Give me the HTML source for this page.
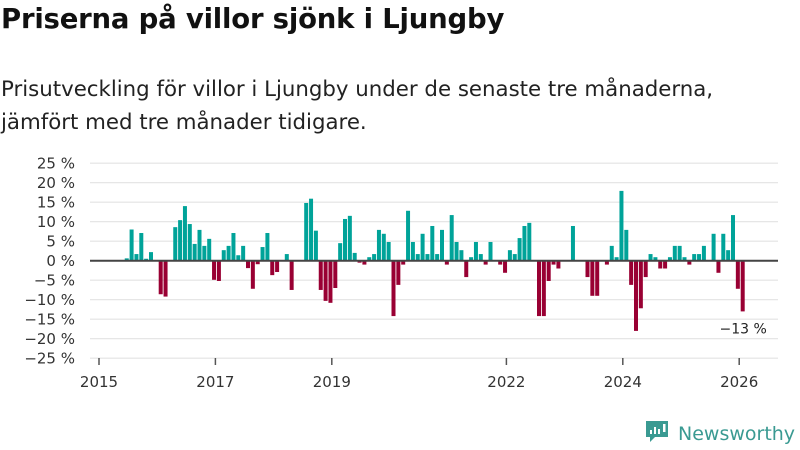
<!DOCTYPE html>
<html><head><meta charset="utf-8"><style>
body{margin:0;width:800px;height:450px;background:#fff;font-family:"DejaVu Sans",sans-serif;overflow:hidden;position:relative}
#title{position:absolute;left:1px;top:3px;font-size:27.5px;font-weight:bold;color:#111;margin:0;letter-spacing:-0.2px}
#sub{position:absolute;left:1px;top:73px;font-size:21.3px;line-height:33px;color:#222;margin:0}
svg{position:absolute;left:0;top:0}
</style></head><body>
<h1 id="title">Priserna på villor sjönk i Ljungby</h1>
<p id="sub">Prisutveckling för villor i Ljungby under de senaste tre månaderna,<br>jämfört med tre månader tidigare.</p>
<svg id="chart" width="800" height="450"></svg>
<script>
const yTicks=[25,20,15,10,5,0,-5,-10,-15,-20,-25];
const yTickLabels=["25 %","20 %","15 %","10 %","5 %","0 %","−5 %","−10 %","−15 %","−20 %","−25 %"];
const xTicks=[2015,2017,2019,2022,2024,2026];
const startYear=2015;
const values=[null,null,null,null,null,0.6,8,1.7,7.1,0.5,2.2,null,-8.6,-9.2,null,8.6,10.4,14,9.4,4.3,7.9,3.8,5.6,-4.9,-5.2,2.7,3.8,7.1,1.4,3.8,-1.9,-7.2,-0.9,3.5,7.1,-3.7,-2.9,null,1.7,-7.5,null,null,14.8,15.9,7.7,-7.5,-10.3,-10.8,-7,4.5,10.7,11.5,2,-0.5,-1,0.9,1.7,7.9,6.9,4.8,-14.2,-6.2,-1,12.8,4.8,1.7,6.9,1.7,8.9,1.7,7.9,-1,11.7,4.8,2.7,-4.2,0.9,4.8,1.7,-1,4.8,null,-1,-3.1,2.7,1.7,5.8,8.9,9.7,null,-14.2,-14.2,-5.2,-1,-2,null,null,8.9,null,null,-4.2,-9,-9,null,-1,3.8,0.9,17.9,7.9,-6.2,-18,-12.2,-4.2,1.7,0.9,-2,-2,0.9,3.8,3.8,0.9,-1,1.7,1.7,3.8,null,6.9,-3.1,6.9,2.7,11.7,-7.2,-13];
const lastLabel="−13 %";
const NS="http://www.w3.org/2000/svg";
const svg=document.getElementById('chart');
const FONT='DejaVu Sans, sans-serif';
const x=yr=>99+(yr-2015)*58.2;
const y=v=>260.7-v*3.9;
function el(t,a,txt){const e=document.createElementNS(NS,t);for(const k in a)e.setAttribute(k,a[k]);if(txt!=null)e.textContent=txt;svg.appendChild(e);return e;}
yTicks.forEach((t,i)=>{
  const g=el('line',{x1:90,x2:778,y1:y(t),y2:y(t),stroke:'#e3e3e3','stroke-width':1.2});
  
  
  const l=el('text',{x:75,y:y(t)+5.5,'text-anchor':'end','font-size':15,fill:'#333','font-family':FONT},yTickLabels[i]);
  
  
});
xTicks.forEach(t=>{
  const tk=el('line',{x1:x(t),x2:x(t),y1:358,y2:365,stroke:'#555','stroke-width':1.5});
  
  
  const l=el('text',{x:x(t),y:387,'text-anchor':'middle','font-size':15,fill:'#333','font-family':FONT},String(t));
  
  
});
values.forEach((v,m)=>{
  if(v==null)return;
  const bx=x(startYear+m/12)+1.5;
  const r=el('rect',{x:bx,width:4,y:Math.min(y(v),y(0)),height:Math.abs(y(v)-y(0)),fill:v>=0?'#00a399':'#990033'});
  
  
});
const z=el('line',{x1:90,x2:778,y1:y(0),y2:y(0),stroke:'#444','stroke-width':2});


const li=values.length-1;
const lab=el('text',{x:x(startYear+li/12)+4,y:y(values[li])+22,'text-anchor':'middle','font-size':14,fill:'#222','font-family':FONT},lastLabel);


</script>
<svg width="800" height="450" style="position:absolute;left:0;top:0">
<path d="M646 421h22v16h-13l-5 5v-5h-4z" fill="#3a9a92"/>
<rect x="650" y="430" width="2" height="4" fill="#fff"/><rect x="654" y="427" width="2" height="7" fill="#fff"/><rect x="658" y="429" width="2" height="5" fill="#fff"/><rect x="663" y="424" width="2.5" height="8" fill="#fff"/>
<text x="678" y="440" font-size="19" fill="#3a9a92" font-family="DejaVu Sans, sans-serif">Newsworthy</text>
</svg>
</body></html>
